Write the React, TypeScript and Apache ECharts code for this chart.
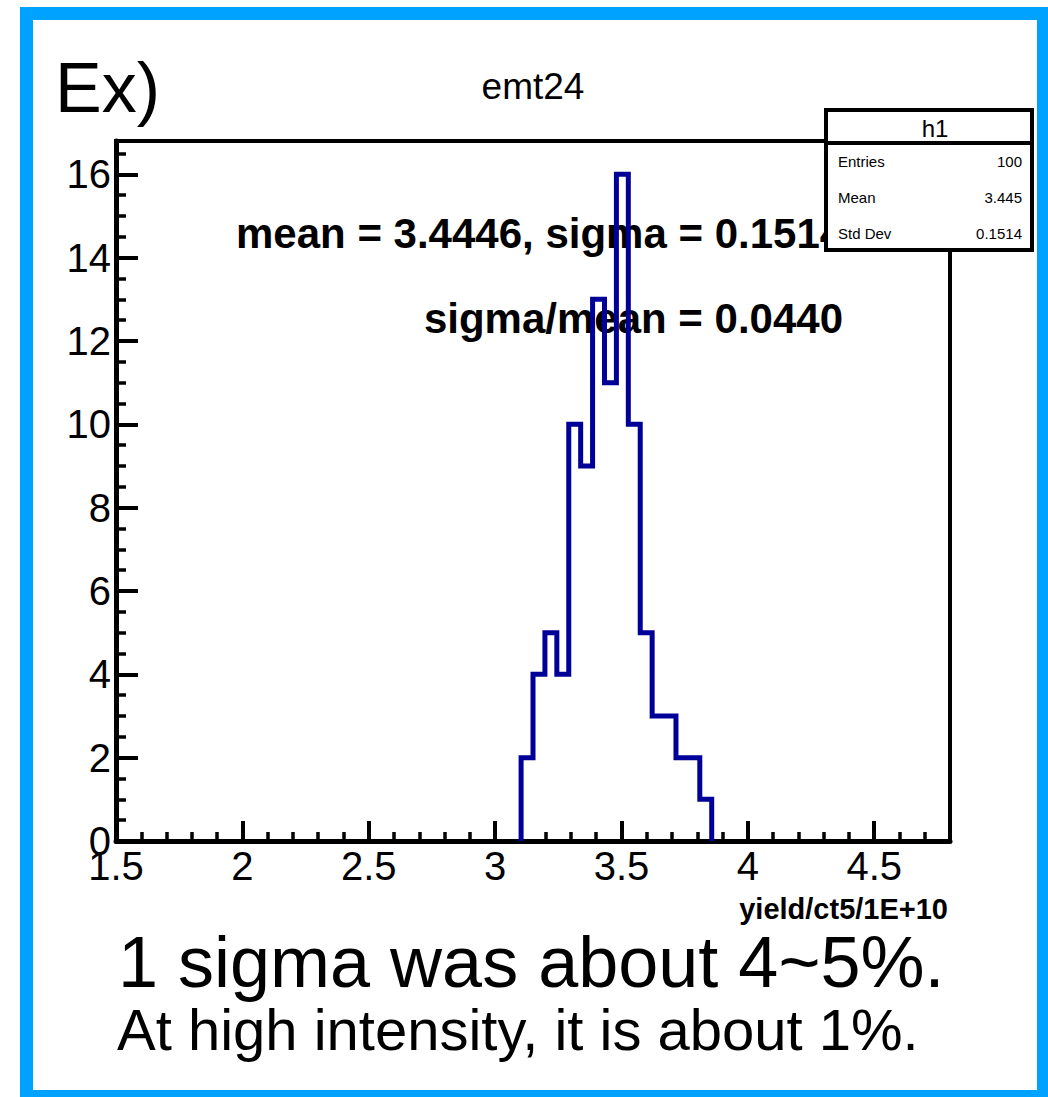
import React, { useEffect, useRef } from "react";
import * as echarts from "echarts";

// Histogram definition (bins of the drawn histogram)
const binLow = 3.1029; // lower edge of the first non-empty bin
const binWidth = 0.04714;
const counts = [2, 4, 5, 4, 10, 9, 13, 11, 16, 10, 5, 3, 3, 2, 2, 1];

const xMin = 1.5;
const xMax = 4.8;
const yMin = 0;
const yMax = 16.8;

const titleText = "emt24";
const cornerText = "Ex)";
const fitLine1 = "mean = 3.4446, sigma = 0.1514";
const fitLine2 = "sigma/mean = 0.0440";
const xTitle = "yield/ct5/1E+10";
const noteLine1 = "1 sigma was about 4~5%.";
const noteLine2 = "At high intensity, it is about 1%.";

const statsTitle = "h1";
const statsLabels = ["Entries", "Mean", "Std Dev"];
const statsValues = ["100", "3.445", "0.1514"];

const FONT = "'Liberation Sans', Arial, Helvetica, sans-serif";

export default function App() {
  const ref = useRef<HTMLDivElement>(null);

  useEffect(() => {
    document.body.style.margin = "0";
    document.body.style.overflow = "hidden";
    const chart = echarts.init(ref.current!, null, { renderer: "svg" });

    const pts: number[][] = [];
    pts.push([binLow, 0]);
    counts.forEach((c, i) => {
      pts.push([binLow + i * binWidth, c]);
      pts.push([binLow + (i + 1) * binWidth, c]);
    });
    pts.push([binLow + counts.length * binWidth, 0]);

    const gridLeft = 116;
    const gridTop = 141;
    const gridW = 834;
    const gridH = 700;

    const statsRows: any[] = [];
    statsLabels.forEach((l, i) => {
      const cy = 161 + i * 36;
      statsRows.push({
        type: "text",
        z: 21,
        x: 838,
        y: cy,
        style: { text: l, font: `15px ${FONT}`, fill: "#000", textAlign: "left", textVerticalAlign: "middle" },
      });
      statsRows.push({
        type: "text",
        z: 21,
        x: 1022,
        y: cy,
        style: { text: statsValues[i], font: `15px ${FONT}`, fill: "#000", textAlign: "right", textVerticalAlign: "middle" },
      });
    });

    chart.setOption({
      animation: false,
      backgroundColor: "#fff",
      grid: {
        left: gridLeft,
        top: gridTop,
        width: gridW,
        height: gridH,
        show: true,
        borderColor: "#000",
        borderWidth: 4,
        backgroundColor: "transparent",
      },
      xAxis: [
        {
          type: "value",
          min: xMin,
          max: xMax,
          interval: 0.5,
          position: "bottom",
          axisLine: { show: true, onZero: false, lineStyle: { color: "#000", width: 5 } },
          axisTick: { show: true, inside: true, length: 20, lineStyle: { color: "#000", width: 4 } },
          axisLabel: {
            show: true,
            fontSize: 40,
            fontFamily: FONT,
            color: "#000",
            margin: 5,
            showMaxLabel: false,
            formatter: (v: number) => (Math.abs(v - xMax) < 1e-6 ? "" : String(+v.toFixed(2))),
          },
          splitLine: { show: false },
        },
        {
          type: "value",
          min: xMin,
          max: xMax,
          interval: 0.1,
          position: "bottom",
          axisLine: { show: false },
          axisTick: { show: true, inside: true, length: 9, lineStyle: { color: "#000", width: 3.5 } },
          axisLabel: { show: false },
          splitLine: { show: false },
        },
      ],
      yAxis: [
        {
          type: "value",
          min: yMin,
          max: yMax,
          interval: 2,
          position: "left",
          axisLine: { show: true, onZero: false, lineStyle: { color: "#000", width: 5 } },
          axisTick: { show: true, inside: true, length: 22, lineStyle: { color: "#000", width: 4 } },
          axisLabel: {
            show: true,
            fontSize: 40,
            fontFamily: FONT,
            color: "#000",
            margin: 5,
            showMaxLabel: false,
            formatter: (v: number) => (Math.abs(v - Math.round(v)) > 1e-6 ? "" : String(Math.round(v))),
          },
          splitLine: { show: false },
        },
        {
          type: "value",
          min: yMin,
          max: yMax,
          interval: 0.5,
          position: "left",
          axisLine: { show: false },
          axisTick: { show: true, inside: true, length: 10, lineStyle: { color: "#000", width: 3.5 } },
          axisLabel: { show: false },
          splitLine: { show: false },
        },
      ],
      series: [
        {
          type: "line",
          xAxisIndex: 0,
          yAxisIndex: 0,
          data: pts,
          showSymbol: false,
          symbol: "none",
          z: 5,
          lineStyle: { color: "#000099", width: 5, join: "miter" },
        },
      ],
      graphic: [
        {
          type: "rect",
          z: 30,
          shape: { x: 26.5, y: 13.5, width: 1017, height: 1083 },
          style: { fill: "none", stroke: "#00a2ff", lineWidth: 13 },
          silent: true,
        },
        {
          type: "text",
          z: 1,
          x: 55,
          y: 88,
          style: { text: cornerText, font: `70px ${FONT}`, fill: "#000", textAlign: "left", textVerticalAlign: "middle" },
        },
        {
          type: "text",
          z: 1,
          x: 533,
          y: 86,
          style: { text: titleText, font: `37px ${FONT}`, fill: "#000", textAlign: "center", textVerticalAlign: "middle" },
        },
        {
          type: "text",
          z: 1,
          x: 236,
          y: 233,
          style: { text: fitLine1, font: `bold 42px ${FONT}`, fill: "#000", textAlign: "left", textVerticalAlign: "middle" },
        },
        {
          type: "text",
          z: 1,
          x: 843,
          y: 318,
          style: { text: fitLine2, font: `bold 42px ${FONT}`, fill: "#000", textAlign: "right", textVerticalAlign: "middle" },
        },
        {
          type: "text",
          z: 1,
          x: 948,
          y: 909,
          style: { text: xTitle, font: `bold 29px ${FONT}`, fill: "#000", textAlign: "right", textVerticalAlign: "middle" },
        },
        {
          type: "text",
          z: 1,
          x: 118,
          y: 962,
          style: { text: noteLine1, font: `72px ${FONT}`, fill: "#000", textAlign: "left", textVerticalAlign: "middle" },
        },
        {
          type: "text",
          z: 1,
          x: 117,
          y: 1029,
          style: { text: noteLine2, font: `58px ${FONT}`, fill: "#000", textAlign: "left", textVerticalAlign: "middle" },
        },
        {
          type: "rect",
          z: 20,
          shape: { x: 826, y: 110, width: 206, height: 140 },
          style: { fill: "#fff", stroke: "#000", lineWidth: 4 },
        },
        {
          type: "line",
          z: 21,
          shape: { x1: 826, y1: 143, x2: 1032, y2: 143 },
          style: { stroke: "#000", lineWidth: 4 },
        },
        {
          type: "text",
          z: 21,
          x: 935,
          y: 128,
          style: { text: statsTitle, font: `24px ${FONT}`, fill: "#000", textAlign: "center", textVerticalAlign: "middle" },
        },
        ...statsRows,
      ],
    });

    return () => {
      chart.dispose();
    };
  }, []);

  return <div ref={ref} style={{ width: 1048, height: 1097 }} />;
}
